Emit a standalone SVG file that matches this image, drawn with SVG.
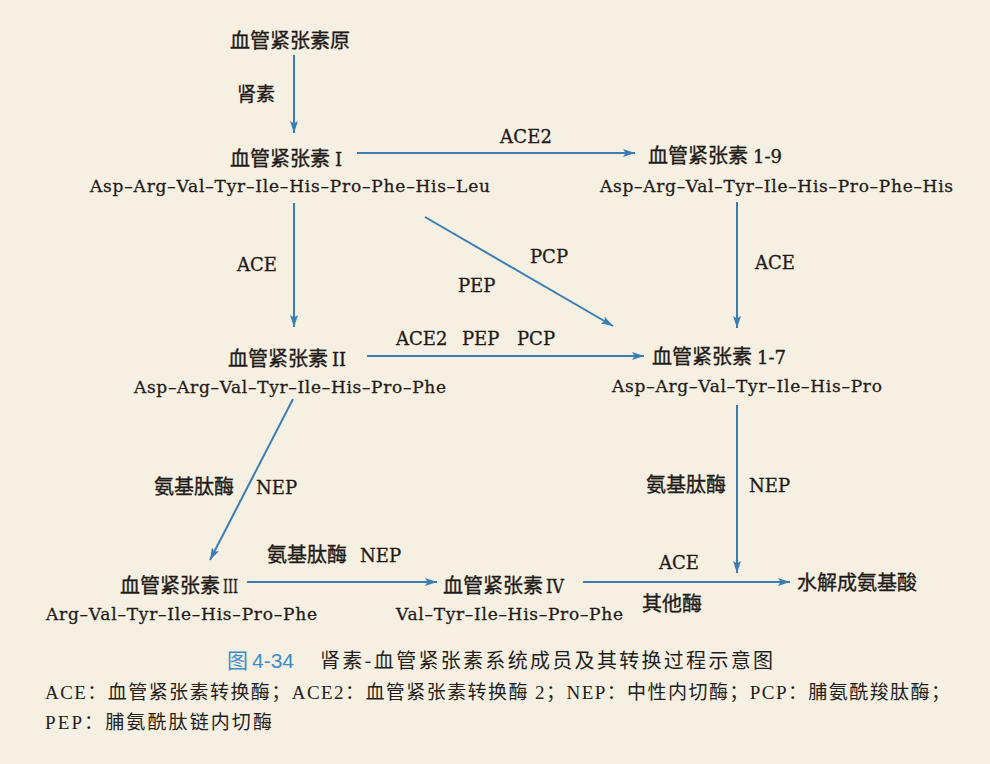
<svg xmlns="http://www.w3.org/2000/svg" width="990" height="764" viewBox="0 0 990 764">
<defs>
<marker id="ah" viewBox="0 0 12 8" refX="12" refY="4" markerWidth="12" markerHeight="8" markerUnits="userSpaceOnUse" orient="auto">
<path d="M0,0 L12,4 L0,8 L2.5,4 Z" fill="#3a7db3"/>
</marker>
<style>
.cn{font-family:"Noto Sans CJK SC","Noto Sans CJK TC",sans-serif;font-size:20px;fill:#1f1b18;stroke:#1f1b18;stroke-width:0.35px}
.rn{font-family:"DejaVu Serif","Liberation Serif",serif;font-size:18px;fill:#1f1b18}
.pep{font-family:"DejaVu Serif","Liberation Serif",serif;font-size:17px;fill:#1f1b18;stroke:#1f1b18;stroke-width:0.3px}
.lb{font-family:"DejaVu Serif","Liberation Serif",serif;font-size:18px;fill:#1f1b18;stroke:#1f1b18;stroke-width:0.3px}
.lg{font-family:"Liberation Serif","Noto Sans CJK SC",serif;font-size:19px;fill:#231f1c}
.cap{font-family:"Liberation Sans","Noto Sans CJK SC",sans-serif;font-size:21px}
.ed{stroke:#3a7db3;stroke-width:2;fill:none;marker-end:url(#ah)}
</style>
</defs>
<rect x="0" y="0" width="990" height="764" fill="#f6f0e3"/>

<g id="agt">
<text class="cn" x="230" y="48">血管紧张素原</text>
</g>
<g id="ang1">
<text class="cn" x="230" y="166">血管紧张素<tspan class="rn" x="335">I</tspan></text>
<text class="pep" x="90" y="192" textLength="400" lengthAdjust="spacing">Asp–Arg–Val–Tyr–Ile–His–Pro–Phe–His–Leu</text>
</g>
<g id="ang19">
<text class="cn" x="648" y="163">血管紧张素<tspan class="rn" x="753">1-9</tspan></text>
<text class="pep" x="600" y="192" textLength="353" lengthAdjust="spacing">Asp–Arg–Val–Tyr–Ile–His–Pro–Phe–His</text>
</g>
<g id="ang2">
<text class="cn" x="228" y="366">血管紧张素<tspan class="rn" x="332" textLength="14" lengthAdjust="spacingAndGlyphs">II</tspan></text>
<text class="pep" x="134" y="393" textLength="312" lengthAdjust="spacing">Asp–Arg–Val–Tyr–Ile–His–Pro–Phe</text>
</g>
<g id="ang17">
<text class="cn" x="652" y="364">血管紧张素<tspan class="rn" x="757">1-7</tspan></text>
<text class="pep" x="612" y="392" textLength="270" lengthAdjust="spacing">Asp–Arg–Val–Tyr–Ile–His–Pro</text>
</g>
<g id="ang3">
<text class="cn" x="120" y="593">血管紧张素<tspan class="rn" x="223" textLength="15" lengthAdjust="spacingAndGlyphs">III</tspan></text>
<text class="pep" x="46" y="620" textLength="271" lengthAdjust="spacing">Arg–Val–Tyr–Ile–His–Pro–Phe</text>
</g>
<g id="ang4">
<text class="cn" x="443" y="593">血管紧张素<tspan class="rn" x="546" textLength="18" lengthAdjust="spacingAndGlyphs">IV</tspan></text>
<text class="pep" x="396" y="620" textLength="227" lengthAdjust="spacing">Val–Tyr–Ile–His–Pro–Phe</text>
</g>
<g id="aa">
<text class="cn" x="797" y="590">水解成氨基酸</text>
</g>

<g id="connectors">
<line class="ed" x1="294" y1="55" x2="294" y2="133"/>
<line class="ed" x1="357" y1="153" x2="635" y2="153"/>
<line class="ed" x1="294" y1="203" x2="294" y2="327"/>
<line class="ed" x1="425" y1="217" x2="613" y2="326"/>
<line class="ed" x1="737" y1="202" x2="737" y2="328"/>
<line class="ed" x1="367" y1="356" x2="644" y2="356"/>
<line class="ed" x1="293" y1="399" x2="210" y2="560"/>
<line class="ed" x1="737" y1="405" x2="737" y2="573"/>
<line class="ed" x1="247" y1="582" x2="437" y2="582"/>
<line class="ed" x1="583" y1="582" x2="790" y2="582"/>
</g>

<g id="edge-labels">
<text class="cn" x="237" y="101" style="font-size:19px">肾素</text>
<text class="lb" x="500" y="143" textLength="52" lengthAdjust="spacing">ACE2</text>
<text class="lb" x="237" y="271">ACE</text>
<text class="lb" x="530" y="263">PCP</text>
<text class="lb" x="458" y="292">PEP</text>
<text class="lb" x="755" y="269">ACE</text>
<text class="lb" x="396" y="345">ACE2</text>
<text class="lb" x="462" y="345">PEP</text>
<text class="lb" x="517" y="345">PCP</text>
<text class="cn" x="154" y="494">氨基肽酶</text>
<text class="lb" x="256" y="494">NEP</text>
<text class="cn" x="646" y="492">氨基肽酶</text>
<text class="lb" x="749" y="492">NEP</text>
<text class="cn" x="267" y="562">氨基肽酶</text>
<text class="lb" x="360" y="562">NEP</text>
<text class="lb" x="659" y="569">ACE</text>
<text class="cn" x="642" y="611">其他酶</text>
</g>

<g id="caption">
<text class="cap" x="227" y="668" fill="#3a8cc8">图<tspan x="252">4-34</tspan></text>
<text class="cap" x="320" y="668" fill="#231f1c" textLength="453" lengthAdjust="spacing" style="font-family:'Noto Sans CJK SC',sans-serif;font-size:20px">肾素-血管紧张素系统成员及其转换过程示意图</text>
<text class="lg" x="45" y="699" textLength="905" lengthAdjust="spacing">ACE：血管紧张素转换酶；ACE2：血管紧张素转换酶 2；NEP：中性内切酶；PCP：脯氨酰羧肽酶；</text>
<text class="lg" x="45" y="729" textLength="227" lengthAdjust="spacing">PEP：脯氨酰肽链内切酶</text>
</g>
</svg>
